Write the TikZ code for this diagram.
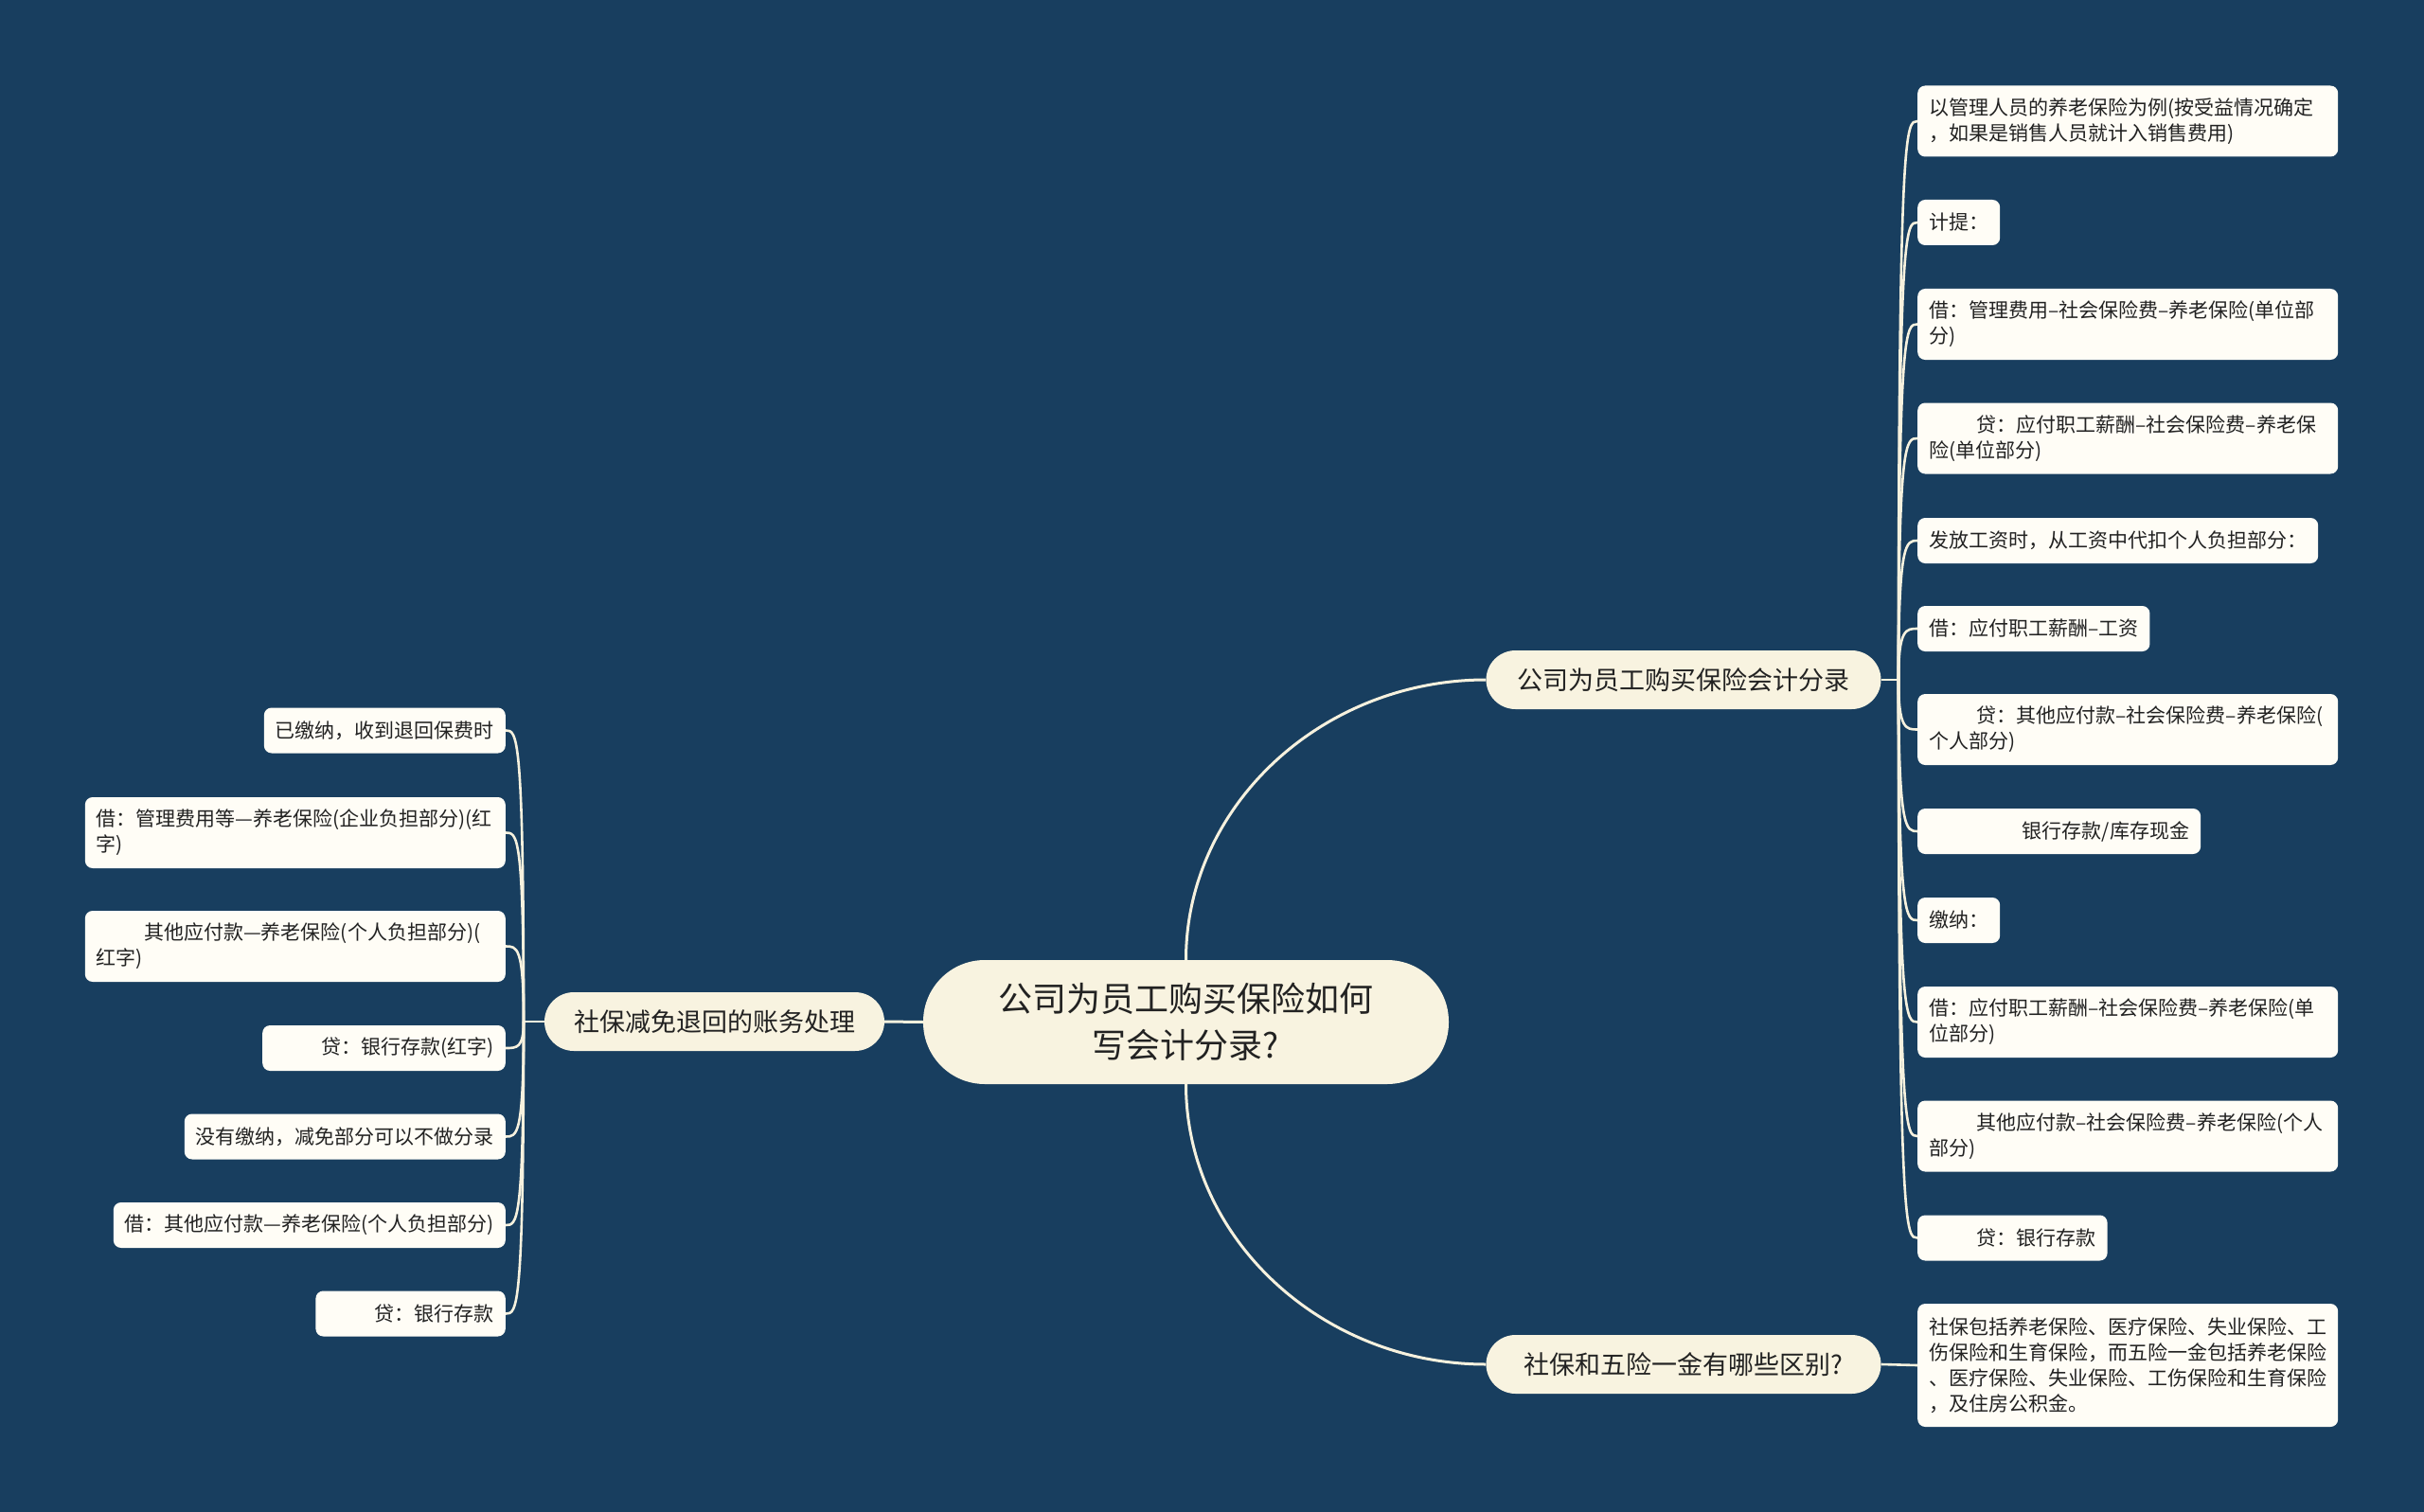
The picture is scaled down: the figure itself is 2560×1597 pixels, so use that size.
\documentclass[tikz,border=0pt]{standalone}
\usepackage{fontspec}
\setmainfont{Noto Sans CJK SC}
\definecolor{bg}{HTML}{183E5F}
\definecolor{leaffill}{HTML}{FFFDF6}
\definecolor{mainfill}{HTML}{F8F3E0}
\definecolor{linec}{HTML}{F6F1DE}
\definecolor{txt}{HTML}{222222}
\tikzset{
  leaf/.style={fill=leaffill, rounded corners=8pt, inner xsep=12pt, inner ysep=8pt,
    minimum height=48pt, font=\fontsize{21}{27}\selectfont, text=txt, align=left},
  wide/.style={text width=420pt},
  twoline/.style={minimum height=75pt},
  fourline/.style={minimum height=130pt},
  mainnode/.style={fill=mainfill, rounded corners=31pt, minimum height=62pt,
    inner xsep=31pt, font=\fontsize{27}{34}\selectfont, text=txt},
  conn/.style={draw=linec, line width=3pt},
  thinconn/.style={draw=linec, line width=2.6pt},
}
\newcommand{\ind}{\hspace*{2.4em}}
\begin{document}
\begin{tikzpicture}[x=1pt,y=-1pt]
\useasboundingbox (0,0) rectangle (2560,1597);
\fill[bg] (0,0) rectangle (2560,1597);

% central
\node[fill=mainfill, rounded corners=65pt, minimum width=555pt, minimum height=131pt,
  font=\fontsize{36}{49}\selectfont, text=txt, align=center] (c) at (1252.5,1079.5)
  {公司为员工购买保险如何\\写会计分录?};

% main branches
\node[mainnode, minimum width=417pt] (r1) at (1778,718) {公司为员工购买保险会计分录};
\node[mainnode, minimum width=417pt] (r2) at (1778,1441) {社保和五险一金有哪些区别?};
\node[mainnode] (lm) at (754.5,1079) {社保减免退回的账务处理};

% right leaves of r1
\node[leaf, wide, twoline, anchor=west] (r1a) at (2025,128) {以管理人员的养老保险为例(按受益情况确定\\，如果是销售人员就计入销售费用)};
\node[leaf, anchor=west] (r1b) at (2025,235) {计提：};
\node[leaf, wide, twoline, anchor=west] (r1c) at (2025,342.5) {借：管理费用–社会保险费–养老保险(单位部\\分)};
\node[leaf, wide, twoline, anchor=west] (r1d) at (2025,463) {\ind 贷：应付职工薪酬–社会保险费–养老保\\险(单位部分)};
\node[leaf, anchor=west] (r1e) at (2025,571) {发放工资时，从工资中代扣个人负担部分：};
\node[leaf, anchor=west] (r1f) at (2025,664) {借：应付职工薪酬–工资};
\node[leaf, wide, twoline, anchor=west] (r1g) at (2025,770.5) {\ind 贷：其他应付款–社会保险费–养老保险(\\个人部分)};
\node[leaf, anchor=west] (r1h) at (2025,878) {\hspace*{4.7em}银行存款/库存现金};
\node[leaf, anchor=west] (r1i) at (2025,972) {缴纳：};
\node[leaf, wide, twoline, anchor=west] (r1j) at (2025,1079.5) {借：应付职工薪酬–社会保险费–养老保险(单\\位部分)};
\node[leaf, wide, twoline, anchor=west] (r1k) at (2025,1200) {\ind 其他应付款–社会保险费–养老保险(个人\\部分)};
\node[leaf, anchor=west] (r1l) at (2025,1307.5) {\ind 贷：银行存款};

% right leaf of r2
\node[leaf, wide, fourline, anchor=west] (r2a) at (2025,1442) {社保包括养老保险、医疗保险、失业保险、工\\伤保险和生育保险，而五险一金包括养老保险\\、医疗保险、失业保险、工伤保险和生育保险\\，及住房公积金。};

% left leaves
\node[leaf, anchor=east] (la) at (534,771.5) {已缴纳，收到退回保费时};
\node[leaf, wide, twoline, anchor=east] (lb) at (534,879.5) {借：管理费用等—养老保险(企业负担部分)(红\\字)};
\node[leaf, wide, twoline, anchor=east] (lc) at (534,999.5) {\ind 其他应付款—养老保险(个人负担部分)(\\红字)};
\node[leaf, anchor=east] (ld) at (534,1107) {\ind 贷：银行存款(红字)};
\node[leaf, anchor=east] (le) at (534,1200.5) {没有缴纳，减免部分可以不做分录};
\node[leaf, anchor=east] (lf) at (534,1294) {借：其他应付款—养老保险(个人负担部分)};
\node[leaf, anchor=east] (lg) at (534,1387.5) {\ind 贷：银行存款};

% hubs
\coordinate (hr) at (2005,718);
\coordinate (hl) at (553,1079);

% connectors from central
\draw[conn] (c.north) .. controls +(0,-163) and +(-173,0) .. (r1.west);
\draw[conn] (c.south) .. controls +(0,163) and +(-173,0) .. (r2.west);
\draw[conn] (c.west) -- (lm.east);

% r1 to its leaves
\draw[thinconn] (r1.east) -- (hr);
\foreach \n in {a,b,c,d,e,f,g,h,i,j,k,l}
  \draw[thinconn] (hr) .. controls (hr |- r1\n.west) and ([xshift=-12pt]r1\n.west) .. (r1\n.west);

% r2 to its leaf
\draw[thinconn] (r2.east) -- (r2a.west);

% left main to its leaves
\draw[thinconn] (lm.west) -- (hl);
\foreach \n in {a,b,c,d,e,f,g}
  \draw[thinconn] (hl) .. controls (hl |- l\n.east) and ([xshift=12pt]l\n.east) .. (l\n.east);
\end{tikzpicture}
\end{document}
